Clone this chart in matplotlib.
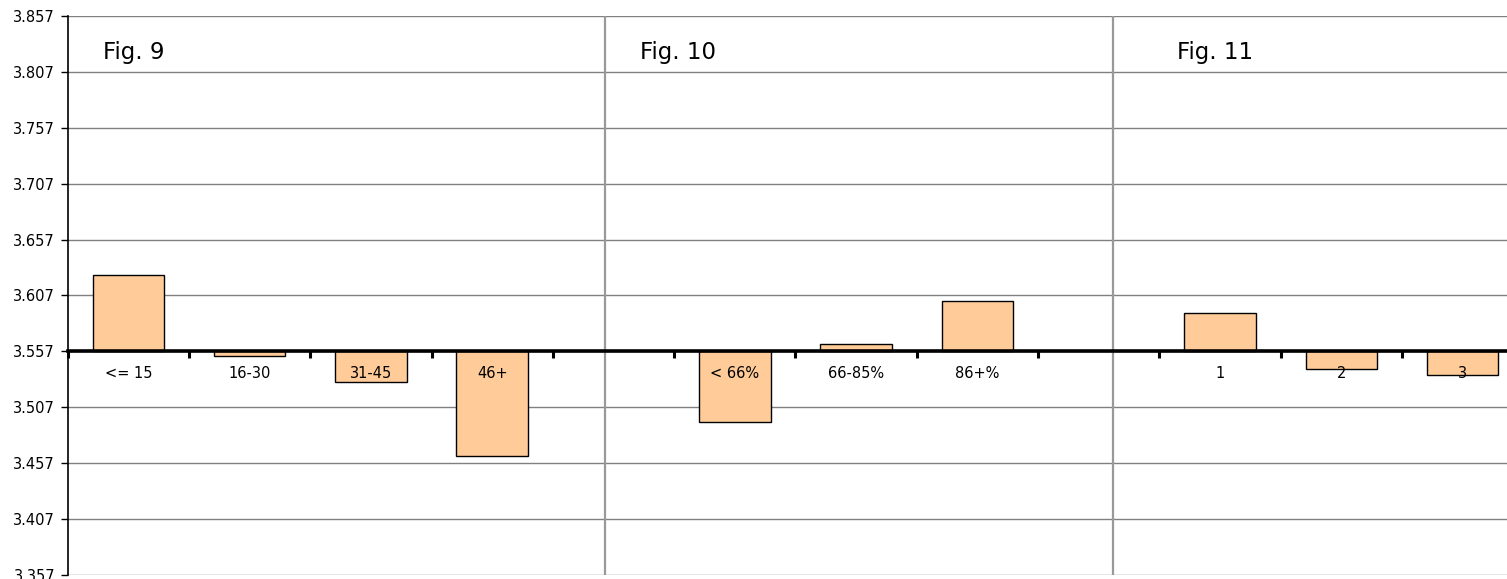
import numpy as np
import matplotlib.pyplot as plt

# mean score by group, three panels on one shared scale
categories = ['<= 15', '16-30', '31-45', '46+', '',
              '< 66%', '66-85%', '86+%', '',
              '1', '2', '3']
values = [3.625, 3.5525, 3.530, 3.463, np.nan,
          3.494, 3.5635, 3.602, np.nan,
          3.591, 3.5415, 3.536]
panel_titles = ['Fig. 9', 'Fig. 10', 'Fig. 11']
title_x = [-0.21, 4.22, 8.645]
separators = [3.93, 8.12]
baseline = 3.557
yticks = [3.357, 3.407, 3.457, 3.507, 3.557, 3.607, 3.657, 3.707, 3.757, 3.807, 3.857]

fig = plt.figure(figsize=(15.07, 5.79), dpi=100)
ax = fig.add_axes([0.0449, 0.0069, 0.9659, 0.9655])

x = np.arange(len(categories))
heights = np.array(values) - baseline
ax.bar(x, heights, bottom=baseline, width=0.59, color='#FFCC99',
       edgecolor='black', linewidth=1.0, zorder=2)

ax.set_xlim(-0.5, len(categories) - 0.5)
ax.set_ylim(yticks[0], yticks[-1])
ax.set_yticks(yticks)
ax.set_yticklabels([f'{t:.3f}' for t in yticks], fontsize=10.5, family='Liberation Sans Narrow')

# horizontal grid behind the bars, labels stay on top
for t in yticks:
    ax.axhline(t, color='#808080', linewidth=1.0, zorder=0)
for s in separators:
    ax.axvline(s, color='#999999', linewidth=1.6, zorder=1)

# category axis sits on the 3.557 line
ax.spines['bottom'].set_position(('data', baseline))
ax.spines['bottom'].set_linewidth(2.6)
ax.spines['bottom'].set_zorder(3)
ax.spines['top'].set_visible(False)
ax.spines['right'].set_visible(False)
ax.spines['left'].set_linewidth(1.2)
ax.xaxis.set_zorder(2.5)
ax.yaxis.set_zorder(2.5)

ax.set_xticks(x)
ax.set_xticklabels(categories, fontsize=10.5)
ax.set_xticks(np.arange(len(categories) + 1) - 0.5, minor=True)
ax.tick_params(axis='x', which='major', length=0, pad=10.5)
ax.tick_params(axis='x', which='minor', direction='out', length=5, width=2.2, color='black')
ax.tick_params(axis='y', direction='out', length=5, width=1, color='black', pad=4)

for t, tx in zip(panel_titles, title_x):
    ax.text(tx, 3.8245, t, fontsize=16.5, va='center', ha='left')

fig.savefig('out.png', dpi=100)
